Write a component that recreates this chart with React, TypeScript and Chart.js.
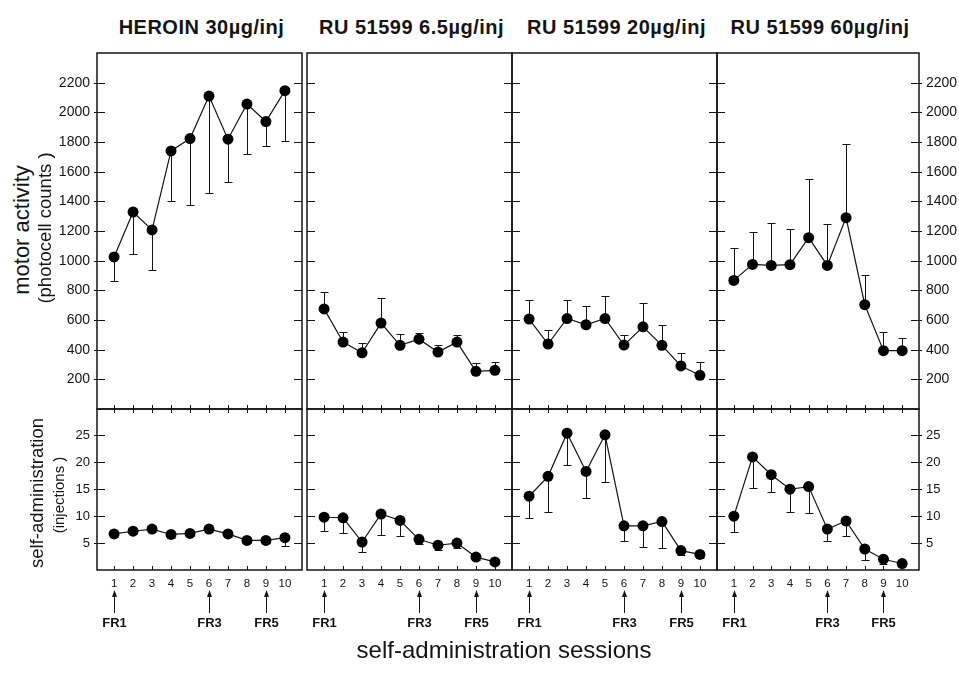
import React, { useEffect, useRef } from "react";
import { Chart, registerables } from "chart.js";

Chart.register(...registerables);

// ---------------- data ----------------
const SESSIONS = [1, 2, 3, 4, 5, 6, 7, 8, 9, 10];
const MOTOR_TICKS = [200, 400, 600, 800, 1000, 1200, 1400, 1600, 1800, 2000, 2200];
const INJ_TICKS = [5, 10, 15, 20, 25];
const FR_SESSIONS = [1, 6, 9];
const FR_LABELS = ["FR1", "FR3", "FR5"];
const TITLES = ["HEROIN 30µg/inj", "RU 51599 6.5µg/inj", "RU 51599 20µg/inj", "RU 51599 60µg/inj"];

const heroinMotor = [1025, 1328, 1207, 1740, 1823, 2110, 1819, 2056, 1938, 2146];
const heroinMotorErr = [159, 281, 267, 336, 446, 654, 292, 336, 164, 338];
const ru65Motor = [675, 451, 379, 579, 429, 471, 384, 451, 254, 261];
const ru65MotorErr = [112, 67, 68, 170, 74, 43, 47, 47, 58, 56];
const ru20Motor = [606, 438, 610, 568, 610, 431, 554, 429, 290, 227];
const ru20MotorErr = [128, 94, 124, 127, 155, 69, 159, 136, 89, 87];
const ru60Motor = [867, 975, 968, 973, 1155, 968, 1290, 703, 393, 393];
const ru60MotorErr = [216, 220, 284, 238, 398, 281, 494, 203, 124, 88];

const heroinInj = [6.7, 7.2, 7.6, 6.6, 6.8, 7.6, 6.7, 5.5, 5.5, 6.0];
const heroinInjErr = [0.6, 0.5, 0.6, 0.6, 0.5, 0.6, 0.5, 0.4, 0.5, 1.5];
const ru65Inj = [9.8, 9.7, 5.2, 10.4, 9.2, 5.7, 4.6, 5.0, 2.4, 1.5];
const ru65InjErr = [2.6, 2.9, 1.8, 3.9, 2.9, 0.9, 0.9, 1.0, 0.6, 0.4];
const ru20Inj = [13.7, 17.4, 25.4, 18.3, 25.1, 8.2, 8.2, 9.0, 3.6, 2.9];
const ru20InjErr = [4.0, 6.6, 5.9, 4.9, 8.8, 2.9, 4.0, 5.0, 0.8, 0.6];
const ru60Inj = [10.0, 21.0, 17.7, 15.0, 15.5, 7.6, 9.1, 3.9, 2.0, 1.2];
const ru60InjErr = [3.0, 5.7, 3.2, 4.3, 4.9, 2.3, 2.8, 2.1, 0.8, 0.4];

const MOTOR_SERIES = [heroinMotor, ru65Motor, ru20Motor, ru60Motor];
const MOTOR_ERRS = [heroinMotorErr, ru65MotorErr, ru20MotorErr, ru60MotorErr];
const INJ_SERIES = [heroinInj, ru65Inj, ru20Inj, ru60Inj];
const INJ_ERRS = [heroinInjErr, ru65InjErr, ru20InjErr, ru60InjErr];

// ---------------- layout ----------------
const FONT = '"Liberation Sans", Arial, Helvetica, sans-serif';
const INK = "#141414";
const COLS = [
  [97, 302],
  [307, 512],
  [512, 717],
  [717, 919],
];
const TOP_Y = 53;
const MID_Y = 409;
const BOT_Y = 570;
const PAD_L = 50;
const PAD_R = 40;
const PAD_V = 10;
const X_AXIS_H = 72;

type PanelProps = {
  col: number;
  isTop: boolean;
  values: number[];
  errs: number[];
  dir: number;
  leftLabels: boolean;
  rightLabels: boolean;
};

function Panel({ col, isTop, values, errs, dir, leftLabels, rightLabels }: PanelProps) {
  const ref = useRef<HTMLCanvasElement | null>(null);
  const [L, R] = COLS[col];
  const top = isTop ? TOP_Y : MID_Y;
  const bottom = isTop ? MID_Y : BOT_Y;
  const xAxisH = isTop ? PAD_V : X_AXIS_H;
  const cw = R - L + PAD_L + PAD_R;
  const ch = bottom - top + PAD_V + xAxisH;
  const yMin = 0;
  const yMax = isTop ? 2400 : 29.9;
  const yTicks = isTop ? MOTOR_TICKS : INJ_TICKS;

  useEffect(() => {
    if (!ref.current) return;
    const deco = {
      id: "panelDeco" + col + (isTop ? "t" : "b"),
      beforeDatasetsDraw(chart: any) {
        const { ctx } = chart;
        const x = chart.scales.x;
        const y = chart.scales.yL;
        ctx.save();
        ctx.strokeStyle = INK;
        ctx.lineWidth = 1;
        values.forEach((v, i) => {
          const px = Math.round(x.getPixelForValue(SESSIONS[i])) + 0.5;
          const p0 = y.getPixelForValue(v);
          const p1 = Math.round(y.getPixelForValue(v + dir * errs[i])) + 0.5;
          ctx.beginPath();
          ctx.moveTo(px, p0);
          ctx.lineTo(px, p1);
          ctx.moveTo(px - 4, p1);
          ctx.lineTo(px + 4, p1);
          ctx.stroke();
        });
        ctx.restore();
      },
      afterDraw(chart: any) {
        const { ctx, chartArea: a } = chart;
        const x = chart.scales.x;
        const y = chart.scales.yL;
        ctx.save();
        ctx.strokeStyle = INK;
        ctx.lineWidth = 1;
        // y ticks on both edges
        yTicks.forEach((v) => {
          const py = Math.round(y.getPixelForValue(v)) + 0.5;
          ctx.beginPath();
          ctx.moveTo(a.left - (leftLabels ? 3 : 0), py);
          ctx.lineTo(a.left + 8, py);
          ctx.moveTo(a.right - 8, py);
          ctx.lineTo(a.right + (rightLabels ? 3 : 0), py);
          ctx.stroke();
        });
        if (!isTop) {
          SESSIONS.forEach((s) => {
            const px = Math.round(x.getPixelForValue(s)) + 0.5;
            ctx.beginPath();
            ctx.moveTo(px, a.bottom);
            ctx.lineTo(px, a.bottom - 4);
            ctx.moveTo(px, a.top - 4);
            ctx.lineTo(px, a.top + 4);
            ctx.stroke();
          });
          // arrows + FR labels
          ctx.fillStyle = INK;
          ctx.font = "bold 13px " + FONT;
          ctx.textAlign = "center";
          ctx.textBaseline = "middle";
          FR_SESSIONS.forEach((s, k) => {
            const px = Math.round(x.getPixelForValue(s)) + 0.5;
            const y0 = a.bottom + 43;
            const y1 = a.bottom + 20;
            ctx.beginPath();
            ctx.moveTo(px, y0);
            ctx.lineTo(px, y1 + 5);
            ctx.stroke();
            ctx.beginPath();
            ctx.moveTo(px, y1);
            ctx.lineTo(px - 2.5, y1 + 7);
            ctx.lineTo(px + 2.5, y1 + 7);
            ctx.closePath();
            ctx.fill();
            ctx.fillText(FR_LABELS[k], px, a.bottom + 53);
          });
        }
        // panel box
        ctx.lineWidth = 1.5;
        ctx.strokeRect(a.left, a.top, a.right - a.left, a.bottom - a.top);
        ctx.restore();
      },
    };

    const setTicks = (vals: number[]) => (s: any) => {
      s.ticks = vals.map((v) => ({ value: v }));
    };
    const fitY = (w: number) => (s: any) => {
      s.width = w;
      s.paddingTop = 0;
      s.paddingBottom = 0;
      s.paddingLeft = 0;
      s.paddingRight = 0;
    };

    const chart = new Chart(ref.current, {
      type: "line",
      data: {
        datasets: [
          {
            data: values.map((v, i) => ({ x: SESSIONS[i], y: v })),
            yAxisID: "yL",
            xAxisID: "x",
            borderColor: INK,
            borderWidth: 1.2,
            pointRadius: 5.5,
            pointBackgroundColor: "#000",
            pointBorderColor: "#000",
            pointBorderWidth: 0,
            tension: 0,
            fill: false,
          },
        ],
      },
      options: {
        animation: false,
        responsive: false,
        devicePixelRatio: 1,
        events: [],
        layout: {
          padding: { left: 0, right: 0, top: PAD_V, bottom: 0 },
        },
        plugins: {
          legend: { display: false },
          tooltip: { enabled: false },
          title: { display: false },
        },
        scales: {
          x: {
            type: "linear",
            position: "bottom",
            min: 0.1,
            max: 10.9,
            display: !isTop,
            afterBuildTicks: setTicks(SESSIONS),
            afterFit: (s: any) => {
              s.height = xAxisH;
              s.paddingTop = 0;
              s.paddingBottom = 0;
              s.paddingLeft = 0;
              s.paddingRight = 0;
            },
            grid: { display: false, drawTicks: false },
            border: { display: false },
            ticks: {
              padding: 7,
              color: INK,
              autoSkip: false,
              maxRotation: 0,
              font: { family: FONT, size: 11.5 },
              callback: (v: any) => String(v),
            },
          },
          yL: {
            type: "linear",
            position: "left",
            min: yMin,
            max: yMax,
            display: leftLabels,
            afterBuildTicks: setTicks(yTicks),
            afterFit: fitY(PAD_L),
            grid: { display: false, drawTicks: false },
            border: { display: false },
            ticks: {
              padding: 7,
              color: INK,
              autoSkip: false,
              font: { family: FONT, size: isTop ? 14 : 13 },
              callback: (v: any) => String(v),
            },
          },
          yR: {
            type: "linear",
            position: "right",
            min: yMin,
            max: yMax,
            display: rightLabels,
            afterBuildTicks: setTicks(yTicks),
            afterFit: fitY(PAD_R),
            grid: { display: false, drawTicks: false },
            border: { display: false },
            ticks: {
              padding: 7,
              color: INK,
              autoSkip: false,
              font: { family: FONT, size: isTop ? 14 : 13 },
              callback: (v: any) => String(v),
            },
          },
        },
      },
      plugins: [deco],
    } as any);
    return () => chart.destroy();
  }, []);

  return (
    <canvas
      ref={ref}
      width={cw}
      height={ch}
      style={{ position: "absolute", left: L - PAD_L, top: top - PAD_V, width: cw, height: ch }}
    />
  );
}

function Label({ text, cx, cy, size, bold, rotate }: { text: string; cx: number; cy: number; size: number; bold?: boolean; rotate?: boolean }) {
  return (
    <div
      style={{
        position: "absolute",
        left: cx,
        top: cy,
        transform: "translate(-50%, -50%)" + (rotate ? " rotate(-90deg)" : ""),
        fontFamily: FONT,
        fontSize: size,
        fontWeight: bold ? "bold" : "normal",
        lineHeight: 1,
        whiteSpace: "nowrap",
        color: INK,
        letterSpacing: bold ? "0.5px" : "normal",
      }}
    >
      {text}
    </div>
  );
}

export default function App() {
  useEffect(() => {
    document.body.style.margin = "0";
    document.body.style.overflow = "hidden";
  }, []);
  return (
    <div
      style={{
        position: "absolute",
        left: 0,
        top: 0,
        width: 959,
        height: 674,
        overflow: "hidden",
        background: "#fff",
      }}
    >
      {COLS.map((c, i) => (
        <Label key={"t" + i} text={TITLES[i]} cx={(c[0] + c[1]) / 2 + 2} cy={27} size={20} bold />
      ))}
      {COLS.map((_, i) => (
        <Panel
          key={"m" + i}
          col={i}
          isTop
          values={MOTOR_SERIES[i]}
          errs={MOTOR_ERRS[i]}
          dir={i === 0 ? -1 : 1}
          leftLabels={i === 0}
          rightLabels={i === 3}
        />
      ))}
      {COLS.map((_, i) => (
        <Panel
          key={"s" + i}
          col={i}
          isTop={false}
          values={INJ_SERIES[i]}
          errs={INJ_ERRS[i]}
          dir={-1}
          leftLabels={i === 0}
          rightLabels={i === 3}
        />
      ))}
      <Label text="motor activity" cx={22} cy={230} size={22} rotate />
      <Label text="(photocell counts )" cx={45} cy={228} size={18.5} rotate />
      <Label text="self-administration" cx={37} cy={493} size={18.5} rotate />
      <Label text="(injections )" cx={58} cy={495} size={15} rotate />
      <Label text="self-administration sessions" cx={504} cy={650} size={24} />
    </div>
  );
}
